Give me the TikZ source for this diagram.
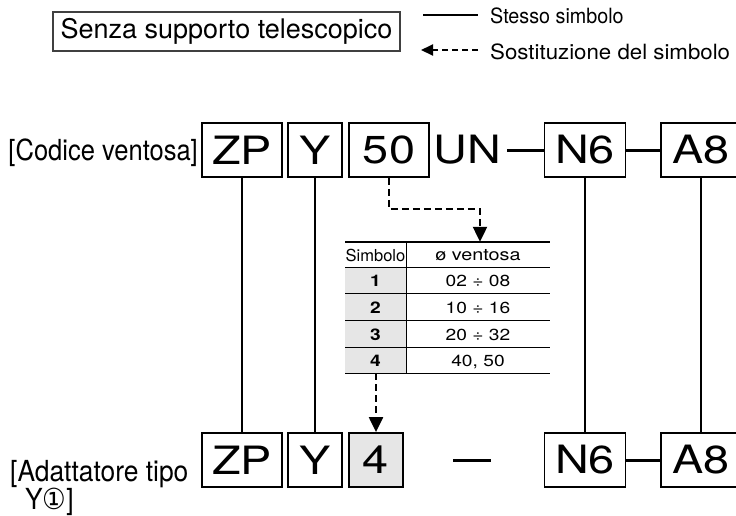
\documentclass[tikz,border=0pt]{standalone}
\usepackage{fontspec}
\setmainfont{TeX Gyre Heros}
\newfontfamily\djv{DejaVu Sans}
\usetikzlibrary{arrows.meta}
\newcommand{\fsz}[1]{\fontsize{#1}{#1}\selectfont}
\newcommand{\narr}[1]{\scalebox{0.88}[1]{#1}}
\newcommand{\wid}[1]{\scalebox{1.2}[1]{#1}}
\definecolor{cellgray}{HTML}{E6E6E6}
\begin{document}
\begin{tikzpicture}[x=1pt,y=-1pt,
  codebox/.style={draw, line width=1.8pt, minimum height=54pt, inner sep=0pt, font=\fsz{39}},
  link/.style={line width=1.8pt},
  bar/.style={line width=3pt},
  subst/.style={line width=2.2pt, dash pattern=on 7pt off 4pt, -{Triangle[width=14pt,length=15pt]}},
  lbl/.style={font=\fsz{29}, inner sep=0pt},
  cell/.style={font=\fsz{16}, inner sep=0pt},
  rule/.style={line width=1pt}]
\useasboundingbox (0,0) rectangle (736,515);
\clip (0,0) rectangle (736,515);

% title and legend
\node[draw=black!75, line width=1.2pt, minimum width=347pt, minimum height=39pt, inner sep=0pt, font=\fsz{27}] (title) at (226.5,31.5) {Senza supporto telescopico};
\coordinate (ls1) at (423,15);
\coordinate (ls2) at (478,15);
\draw[line width=1.5pt] (ls1) -- (ls2);
\node[anchor=west, font=\fsz{21}, inner sep=0pt] (lt1) at (490,16) {\scalebox{0.94}[1]{Stesso simbolo}};
\coordinate (la1) at (478,50);
\coordinate (la2) at (421,50);
\draw[line width=2pt, dash pattern=on 6pt off 4pt, -{Triangle[width=11pt,length=12pt]}] (la1) -- (la2);
\node[anchor=west, font=\fsz{21}, inner sep=0pt] (lt2) at (490,52) {\scalebox{1.06}[1]{Sostituzione del simbolo}};

% top row
\node[lbl, anchor=base east] (code) at (198,160) {\narr{[Codice ventosa]}};
\node[codebox, minimum width=80pt] (zp1) at (242,150) {\wid{ZP}};
\node[codebox, minimum width=54pt] (y1) at (315,150) {\wid{Y}};
\node[codebox, minimum width=80pt] (c1) at (389,150) {\wid{50}};
\node[font=\fsz{39}, inner sep=0pt] (un) at (467,150) {\wid{UN}};
\coordinate (unr) at (507,150);
\node[codebox, minimum width=81pt] (n1) at (585,150) {\wid{N6}};
\node[codebox, minimum width=80pt] (a1) at (701,150) {\wid{A8}};
\draw[bar] (unr) -- (n1.west);
\draw[bar] (n1.east) -- (a1.west);

% bottom row
\node[lbl, anchor=base west] (ad1) at (10,481) {\scalebox{0.91}[1]{[Adattatore tipo}};
\node[lbl, anchor=base west] (ad2) at (25,509) {\scalebox{0.91}[1]{Y{\djv ①}]}};
\node[codebox, minimum width=80pt] (zp2) at (242,460) {\wid{ZP}};
\node[codebox, minimum width=54pt] (y2) at (315,460) {\wid{Y}};
\node[codebox, minimum width=54pt, fill=cellgray] (c2) at (376,460) {\wid{4}};
\coordinate (d1) at (453,460);
\coordinate (d2) at (491,460);
\draw[bar] (d1) -- (d2);
\node[codebox, minimum width=81pt] (n2) at (585,460) {\wid{N6}};
\node[codebox, minimum width=80pt] (a2) at (701,460) {\wid{A8}};
\draw[bar] (n2.east) -- (a2.west);

% same-symbol connectors
\draw[link] (zp1.south) -- (zp2.north);
\draw[link] (y1.south) -- (y2.north);
\draw[link] (n1.south) -- (n2.north);
\draw[link] (a1.south) -- (a2.north);

% table
\node[minimum width=205pt, minimum height=131pt, inner sep=0pt] (tbl) at (447.5,307.5) {};
\fill[cellgray] (345,267) rectangle (406,373);
\draw[line width=2pt] (345,242) -- (550,242);
\foreach \yy in {267,293,320,347,373} \draw[rule] (345,\yy) -- (550,\yy);
\draw[rule] (406,242) -- (406,373);
\node[cell, font=\fsz{16.5}] (h1) at (375.5,255) {Simbolo};
\node[cell, font=\fsz{16.5}] (h2) at (478,255) {\wid{ø ventosa}};
\node[cell] (s1) at (375.5,281) {\wid{\textbf{1}}};
\node[cell] (v1) at (478,281) {\wid{02 ÷ 08}};
\node[cell] (s2) at (375.5,307.5) {\wid{\textbf{2}}};
\node[cell] (v2) at (478,307.5) {\wid{10 ÷ 16}};
\node[cell] (s3) at (375.5,334.5) {\wid{\textbf{3}}};
\node[cell] (v3) at (478,334.5) {\wid{20 ÷ 32}};
\node[cell] (s4) at (375.5,361) {\wid{\textbf{4}}};
\node[cell] (v4) at (478,362) {\wid{40, 50}};

% substitution connectors
\coordinate (k1) at (389,209);
\coordinate (k2) at (480,209);
\draw[subst] (c1.south) -- (k1) -- (k2) -- (k2 |- tbl.north);
\draw[subst] (tbl.south -| c2) -- (c2.north);
\end{tikzpicture}
\end{document}
